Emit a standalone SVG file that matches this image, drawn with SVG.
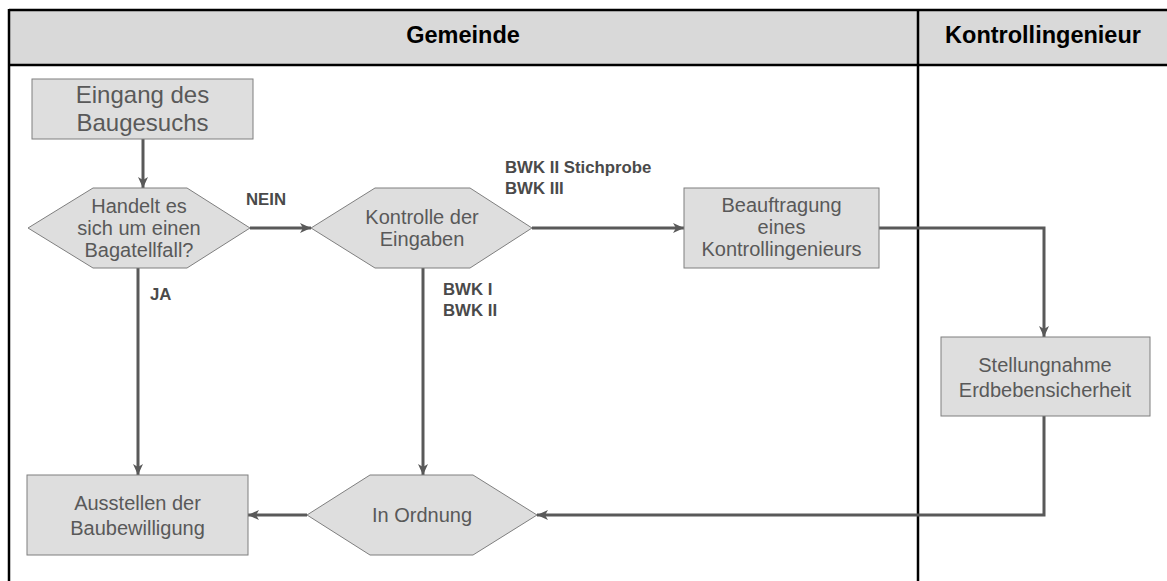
<svg xmlns="http://www.w3.org/2000/svg" width="1167" height="581" viewBox="0 0 1167 581">
<style>
.frame{fill:none;stroke:#000;stroke-width:2.5}
.node{fill:#dedede;stroke:#7f7f7f;stroke-width:1}
.t{font-family:"Liberation Sans",Arial,sans-serif;font-size:20px;fill:#595959;text-anchor:middle}
.big{font-size:24px}
.hd{font-family:"Liberation Sans",Arial,sans-serif;font-size:23.5px;font-weight:bold;fill:#000;text-anchor:middle}
.lb{font-family:"Liberation Sans",Arial,sans-serif;font-size:16.8px;font-weight:bold;fill:#4a4a4a}
.c{fill:none;stroke:#595959;stroke-width:3}
</style>
<defs>
<marker id="ah" markerUnits="userSpaceOnUse" markerWidth="12" markerHeight="12" refX="11" refY="6" orient="auto">
<path d="M0,1 L11,6 L0,11 L3,6 z" fill="#595959"/>
</marker>
</defs>
<g id="lanes">
<rect x="9" y="10" width="1170" height="55" fill="#d9d9d9"/>
<line class="frame" x1="9" y1="10" x2="1170" y2="10"/>
<line class="frame" x1="9" y1="65" x2="1170" y2="65"/>
<line class="frame" x1="9" y1="9" x2="9" y2="585"/>
<line class="frame" x1="918" y1="9" x2="918" y2="585"/>
<text class="hd" x="463" y="43">Gemeinde</text>
<text class="hd" x="1043" y="43">Kontrollingenieur</text>
</g>
<g id="connectors">
<line class="c" x1="143" y1="139" x2="143" y2="188" marker-end="url(#ah)"/>
<line class="c" x1="250" y1="228" x2="311" y2="228" marker-end="url(#ah)"/>
<line class="c" x1="532" y1="228" x2="684" y2="228" marker-end="url(#ah)"/>
<polyline class="c" points="879,228 1044,228 1044,337" marker-end="url(#ah)"/>
<polyline class="c" points="1044,416 1044,515 537,515" marker-end="url(#ah)"/>
<line class="c" x1="307" y1="515" x2="248" y2="515" marker-end="url(#ah)"/>
<line class="c" x1="423" y1="268" x2="423" y2="475" marker-end="url(#ah)"/>
<line class="c" x1="138" y1="268" x2="138" y2="475" marker-end="url(#ah)"/>
<text class="lb" x="246" y="205">NEIN</text>
<text class="lb" x="150" y="300">JA</text>
<text class="lb" x="505" y="173">BWK II Stichprobe</text>
<text class="lb" x="505" y="194">BWK III</text>
<text class="lb" x="443" y="295">BWK I</text>
<text class="lb" x="443" y="316">BWK II</text>
</g>
<g id="eingang">
<rect class="node" x="32" y="79" width="221" height="60"/>
<text class="t big" x="142.5" y="103">Eingang des</text>
<text class="t big" x="142.5" y="131">Baugesuchs</text>
</g>
<g id="bagatell">
<polygon class="node" points="28,228 93,188 187,188 250,228 187,268 93,268"/>
<text class="t" x="139" y="213">Handelt es</text>
<text class="t" x="139" y="235">sich um einen</text>
<text class="t" x="139" y="257">Bagatellfall?</text>
</g>
<g id="kontrolle">
<polygon class="node" points="311,228 375,188 470,188 532,228 470,268 375,268"/>
<text class="t" x="422" y="224">Kontrolle der</text>
<text class="t" x="422" y="246">Eingaben</text>
</g>
<g id="beauftragung">
<rect class="node" x="684" y="188" width="195" height="80"/>
<text class="t" x="781.5" y="212">Beauftragung</text>
<text class="t" x="781.5" y="234">eines</text>
<text class="t" x="781.5" y="256">Kontrollingenieurs</text>
</g>
<g id="stellungnahme">
<rect class="node" x="941" y="337" width="209" height="79"/>
<text class="t" x="1045" y="372">Stellungnahme</text>
<text class="t" x="1045" y="397">Erdbebensicherheit</text>
</g>
<g id="ordnung">
<polygon class="node" points="307,515 370,475 473,475 537,515 473,555 370,555"/>
<text class="t" x="422" y="522">In Ordnung</text>
</g>
<g id="ausstellen">
<rect class="node" x="27" y="475" width="221" height="80"/>
<text class="t" x="137.5" y="510">Ausstellen der</text>
<text class="t" x="137.5" y="535">Baubewilligung</text>
</g>
</svg>
